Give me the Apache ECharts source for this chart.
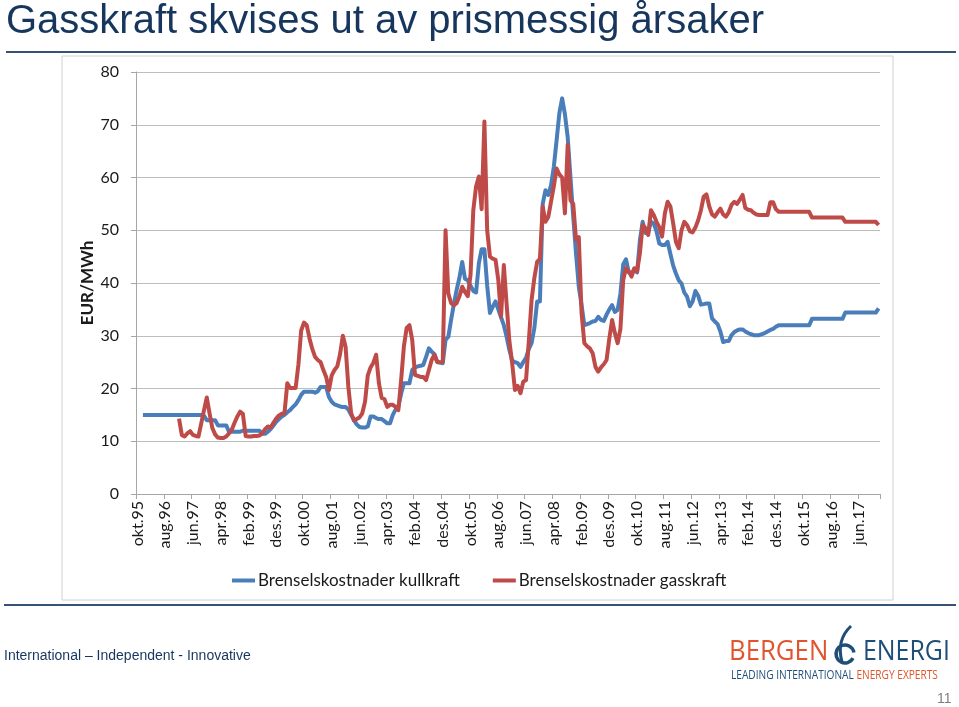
<!DOCTYPE html>
<html><head><meta charset="utf-8">
<script src="https://cdn.jsdelivr.net/npm/echarts@6/dist/echarts.min.js"></script>
<style>html,body{margin:0;padding:0;background:#fff}#c{width:959px;height:707px}</style>
</head><body><div id="c"></div>
<script>
// Month names (Norwegian) and start of the monthly category axis
var monthNames = ['jan','feb','mar','apr','mai','jun','jul','aug','sep','okt','nov','des'];
var startYear = 1995, startMonth = 9, nMonths = 268; // okt.95 .. jan.18
var yTicks = [0,10,20,30,40,50,60,70,80];
var seriesNames = ['Brenselskostnader kullkraft','Brenselskostnader gasskraft'];

var kullkraft = [
null,null,15,15,15,15,15,15,15,15,
15,15,15,15,15,15,15,15,15,15,
15,15,15,15,14.8,14,14,14,14,13,
13,13,13,11.8,11.8,11.8,11.8,11.8,12,12,
12,12,12,12,12,11.4,11.4,11.8,12.3,13.0,
13.7,14.2,14.7,15.0,15.5,15.9,16.5,17.0,17.8,18.8,
19.4,19.4,19.4,19.4,19.2,19.5,20.3,20.3,20.3,18.4,
17.5,17.0,16.8,16.6,16.5,16.5,16.0,15.0,14.0,13.2,
12.7,12.6,12.6,12.8,14.7,14.7,14.4,14.2,14.2,13.8,
13.4,13.4,15.0,16.0,16.5,19.0,21.0,21.0,21.0,23.5,
24.0,24.2,24.3,24.5,26.0,27.6,27.0,26.5,25.1,24.9,
24.8,29.2,29.8,33.0,36.0,38.7,41.0,44.0,40.8,40.5,
39.5,38.5,38.2,43.7,46.4,46.4,39.5,34.3,35.5,36.5,
35.0,33.5,32.0,29.8,27.3,25.3,25.0,24.8,24.1,25.0,
25.8,27.5,28.6,31.5,36.5,36.5,55.0,57.6,56.7,58.5,
62.0,67.0,72.2,75.0,72.0,67.7,60.0,52.6,45.6,39.3,
35.8,32.0,32.2,32.4,32.7,32.8,33.6,33.0,32.8,34.0,
35.0,35.8,34.5,34.9,38.0,43.5,44.5,42.0,41.8,42.6,
42.0,48.0,51.6,49.5,49.5,51.6,51.3,49.8,47.5,47.2,
47.2,47.8,45.5,43.3,41.8,40.5,39.9,38.2,37.4,35.6,
36.5,38.5,37.6,35.9,36.0,36.1,36.1,33.3,32.7,32.2,
30.8,28.8,29.0,29.0,30.1,30.7,31.0,31.2,31.2,30.8,
30.5,30.3,30.1,30.1,30.1,30.3,30.5,30.8,31.1,31.3,
31.7,32,32,32,32,32,32,32,32,32,
32,32,32,33.2,33.2,33.2,33.2,33.2,33.2,33.2,
33.2,33.2,33.2,33.2,33.2,34.4,34.4,34.4,34.4,34.4,
34.4,34.4,34.4,34.4,34.4,34.4,34.4,35.2
];

var gasskraft = [
null,null,null,null,null,null,null,null,null,null,
null,null,null,null,null,14.3,11.2,10.9,11.5,11.9,
11.2,11.0,10.9,13.4,15.9,18.3,15.3,12.5,11.3,10.7,
10.6,10.6,10.9,11.5,12.2,13.5,14.7,15.6,15.2,11.0,
10.9,10.9,11.0,11.0,11.1,11.5,12.3,12.8,12.6,13.5,
14.3,14.9,15.2,15.4,21.0,20.1,20.1,20.1,24.5,31.0,
32.5,32.0,29.5,27.5,26.0,25.4,25.0,23.5,22.2,19.7,
22.5,23.5,24.2,26.5,30.0,27.9,20.3,15.3,14.0,14.2,
14.5,15.3,17.5,22.5,24.0,24.9,26.4,21.0,18.2,18.0,
16.5,16.9,16.9,16.5,15.9,21.6,28.0,31.5,32.0,29.2,
22.6,22.4,22.2,22.2,21.6,23.5,25.4,26.4,25.0,25.0,
25.1,50.0,38.0,36.2,35.8,36.2,37.5,39.3,38.3,37.5,
41.5,53.8,58.3,60.2,54.0,70.6,50.0,45.0,44.6,44.4,
40.6,33.6,43.4,36.0,29.0,24.8,19.7,20.5,19.1,21.3,
21.6,29.0,36.8,41.0,44.0,44.6,54.5,51.6,52.5,55.4,
58.3,61.7,60.6,60.0,53.2,66.2,55.7,55.0,48.2,48.7,
34.3,28.6,28.0,27.6,26.7,24.1,23.2,24.0,24.6,25.4,
29.5,33.0,30.5,28.6,31.3,40.6,42.8,42.2,41.2,42.8,
42.2,45.6,51.0,50.4,49.1,53.8,52.9,51.6,50.6,48.8,
53.2,55.4,54.5,51.3,47.8,46.6,50.0,51.6,51.0,49.8,
49.6,50.5,51.9,53.8,56.4,56.8,54.5,53.0,52.6,53.4,
54.1,53.0,52.6,53.4,54.8,55.4,55.0,55.8,56.7,54.2,
53.9,53.8,53.3,53.0,52.9,52.9,52.9,52.9,55.3,55.3,
54.0,53.5,53.5,53.5,53.5,53.5,53.5,53.5,53.5,53.5,
53.5,53.5,53.5,52.4,52.4,52.4,52.4,52.4,52.4,52.4,
52.4,52.4,52.4,52.4,52.4,51.6,51.6,51.6,51.6,51.6,
51.6,51.6,51.6,51.6,51.6,51.6,51.6,51.0
];

var categories = [];
for (var i = 0; i < nMonths; i++) {
  var m = (startMonth + i) % 12;
  var y = startYear + Math.floor((startMonth + i) / 12);
  categories.push(monthNames[m] + '.' + String(y % 100).padStart(2, '0'));
}

var chart = echarts.init(document.getElementById('c'), null, {renderer: 'canvas'});
var lbl = {fontFamily: 'Lato', fontSize: 16, color: '#1a1a1a'};
var logoFont = '"Open Sans", sans-serif';
chart.setOption({
  animation: false,
  backgroundColor: '#fff',
  grid: {left: 136, right: 79, top: 72, bottom: 213, containLabel: false},
  legend: {
    data: seriesNames,
    left: 227, top: 567,
    icon: 'rect', itemWidth: 23, itemHeight: 4, itemGap: 33,
    textStyle: {fontFamily: 'Lato', fontSize: 17, color: '#1a1a1a', padding: [0,0,0,-2]}
  },
  xAxis: {
    type: 'category', data: categories, boundaryGap: true,
    axisLine: {lineStyle: {color: '#a6a6a6', width: 1}},
    axisTick: {show: true, interval: 9, length: 5, lineStyle: {color: '#a6a6a6'}},
    axisLabel: Object.assign({interval: 9, rotate: 90, margin: 7}, lbl),
    splitLine: {show: false}
  },
  yAxis: {
    type: 'value', min: 0, max: 80, interval: 10,
    axisLine: {show: true, lineStyle: {color: '#a6a6a6', width: 1}},
    axisTick: {show: true, length: 5, inside: false, lineStyle: {color: '#a6a6a6'}},
    axisLabel: Object.assign({margin: 17, formatter: function(v){ return yTicks.indexOf(v) >= 0 ? String(v) : ''; }}, lbl),
    splitLine: {show: true, lineStyle: {color: '#bdbdbd', width: 1}}
  },
  series: [
    {name: seriesNames[0], type: 'line', data: kullkraft, showSymbol: false, symbol: 'none',
     lineStyle: {color: '#4a7ebb', width: 4, join: 'round'}, itemStyle: {color: '#4a7ebb'}},
    {name: seriesNames[1], type: 'line', data: gasskraft, showSymbol: false, symbol: 'none',
     lineStyle: {color: '#be4b48', width: 4, join: 'round'}, itemStyle: {color: '#be4b48'}}
  ],
  graphic: [
    {type: 'text', left: 6, top: 2, style: {text: 'Gasskraft skvises ut av prismessig årsaker', font: '40px "Liberation Sans", Arial, sans-serif', fill: '#17365d'}},
    {type: 'rect', shape: {x: 6, y: 51, width: 950, height: 2}, style: {fill: '#385273'}},
    {type: 'rect', shape: {x: 62, y: 56, width: 831, height: 544}, style: {fill: 'none', stroke: '#d0d0d0', lineWidth: 1}, z: -1},
    {type: 'text', x: 88, y: 283, rotation: Math.PI/2, style: {text: 'EUR/MWh', font: 'bold 17px Lato', fill: '#1a1a1a', textAlign: 'center', textVerticalAlign: 'middle'}},
    {type: 'rect', shape: {x: 4, y: 604, width: 952, height: 2}, style: {fill: '#385273'}},
    {type: 'text', left: 4, top: 649, style: {text: 'International – Independent - Innovative', font: '14px "Liberation Sans", Arial, sans-serif', fill: '#17365d'}},
    {type: 'text', x: 729, y: 652, scaleX: 0.92, style: {text: 'BERGEN', font: '28px ' + logoFont, fill: '#e0552e', textAlign: 'left', textVerticalAlign: 'middle'}},
    {type: 'text', x: 863, y: 652, scaleX: 0.89, style: {text: 'ENERGI', font: '28px ' + logoFont, fill: '#1f4e79', textAlign: 'left', textVerticalAlign: 'middle'}},
    {type: 'arc', shape: {cx: 845, cy: 654, r: 9, startAngle: Math.PI*0.15, endAngle: Math.PI*1.95}, style: {fill: 'none', stroke: '#1f4e79', lineWidth: 3.5}},
    {type: 'bezierCurve', shape: {x1: 842, y1: 662, x2: 851, y2: 626, cpx1: 836, cpy1: 640}, style: {fill: 'none', stroke: '#1f4e79', lineWidth: 3}},
    {type: 'text', x: 731, y: 675, scaleX: 0.78, style: {rich: {a: {fill: '#1f4e79', font: '13px ' + logoFont}, b: {fill: '#e0552e', font: '13px ' + logoFont}}, text: '{a|LEADING INTERNATIONAL }{b|ENERGY EXPERTS}', textVerticalAlign: 'middle'}},
    {type: 'text', left: 937, top: 692, style: {text: '11', font: '14px "Liberation Sans", Arial, sans-serif', fill: '#7f7f7f'}}
  ]
});
</script></body></html>
